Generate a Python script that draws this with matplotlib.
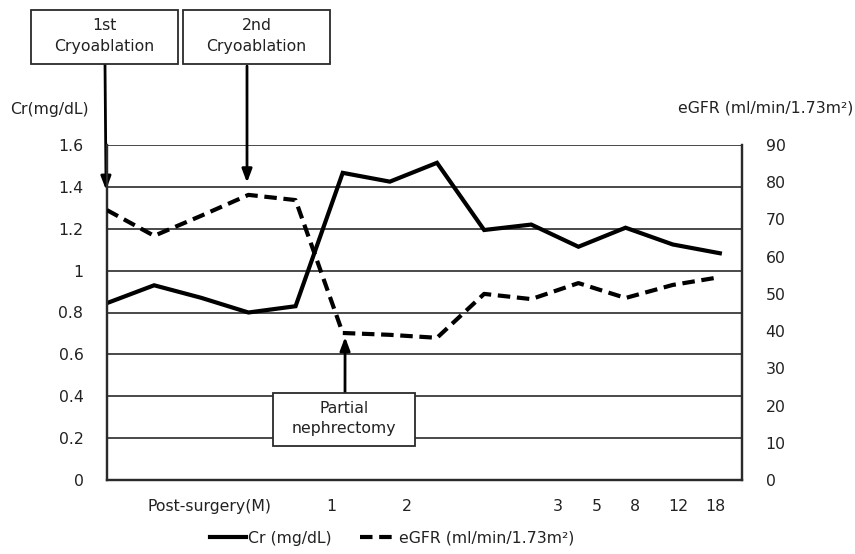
import matplotlib
matplotlib.use("Agg")
import matplotlib.pyplot as plt
from matplotlib.patches import Rectangle
from matplotlib.lines import Line2D

plt.rcParams['font.family'] = ['DejaVu Sans']

# ---- data ----
cr = [0.845, 0.93, 0.87, 0.80, 0.83, 1.467, 1.425, 1.515, 1.194, 1.22, 1.114, 1.205, 1.125, 1.083]
egfr = [72.5, 65.6, 71.0, 76.6, 75.2, 39.5, 39.0, 38.2, 50.0, 48.6, 52.9, 48.9, 52.4, 54.5]
month_labels = ["Post-surgery(M)", "1", "2", "3", "5", "8", "12", "18"]
month_label_pos = [2.18, 4.75, 6.36, 9.57, 10.38, 11.19, 12.12, 12.9]
cr_ticks = [0, 0.2, 0.4, 0.6, 0.8, 1.0, 1.2, 1.4, 1.6]
cr_ticklabels = ["0", "0.2", "0.4", "0.6", "0.8", "1", "1.2", "1.4", "1.6"]
egfr_ticks = [0, 10, 20, 30, 40, 50, 60, 70, 80, 90]

W, H = 855, 554
fig = plt.figure(figsize=(W / 100, H / 100), dpi=100)

def fx(px):
    return px / W

def fy(py):
    return 1 - py / H

ax = fig.add_axes([fx(107), fy(480), fx(742) - fx(107), fy(145) - fy(480)])
ax2 = ax.twinx()

x = list(range(len(cr)))
gc = '#2a2a2a'
fs = 11.3
tc = '#222222'

ax.set_xlim(0, 13.47)
ax.set_ylim(0, 1.6)
ax2.set_ylim(0, 90)
for yv in cr_ticks[1:]:
    ax.axhline(yv, color=gc, lw=1.2, zorder=1)

ax.plot(x, cr, color='black', lw=3, solid_joinstyle='miter', zorder=3)
ax2.plot(x, egfr, color='black', lw=3, dashes=(3, 1.6), zorder=3)

ax.set_yticks(cr_ticks)
ax.set_yticklabels(cr_ticklabels, fontsize=fs, color=tc)
ax2.set_yticks(egfr_ticks)
ax2.set_yticklabels([str(v) for v in egfr_ticks], fontsize=fs, color=tc)
ax.tick_params(axis='y', length=0, pad=17)
ax2.tick_params(axis='y', length=0, pad=17)
ax.set_xticks(month_label_pos)
ax.set_xticklabels(month_labels, fontsize=fs, color=tc)
ax.tick_params(axis='x', length=0, pad=14)

for a in (ax, ax2):
    a.spines['top'].set_visible(False)
    for s in ('left', 'right', 'bottom'):
        a.spines[s].set_color(gc)
        a.spines[s].set_linewidth(1.6)

fig.text(fx(10), fy(110), "Cr(mg/dL)", fontsize=fs, va='center', ha='left', color=tc)
fig.text(fx(853), fy(108), "eGFR (ml/min/1.73m²)", fontsize=fs, va='center', ha='right', color=tc)

# annotation boxes
def box(x0, y0, x1, y1, text):
    fig.patches.append(Rectangle((fx(x0), fy(y1)), fx(x1) - fx(x0), fy(y0) - fy(y1),
                                 transform=fig.transFigure, fill=True, facecolor='white',
                                 edgecolor=gc, lw=1.3, zorder=5))
    fig.text(fx((x0 + x1) / 2), fy((y0 + y1) / 2 - 1), text, ha='center', va='center',
             fontsize=fs, linespacing=1.45, zorder=6, color=tc)

box(31, 10, 178, 64, "1st\nCryoablation")
box(183, 10, 330, 64, "2nd\nCryoablation")
box(273, 393, 415, 446, "Partial\nnephrectomy")

arrowprops = dict(arrowstyle='-|>,head_length=0.8,head_width=0.3', color='black', lw=2,
                  shrinkA=0, shrinkB=0)
ax.annotate("", xy=(-0.02, 1.385), xycoords='data',
            xytext=(fx(105), fy(64)), textcoords='figure fraction',
            arrowprops=arrowprops, annotation_clip=False)
ax.annotate("", xy=(2.97, 1.42), xycoords='data',
            xytext=(fx(247), fy(66)), textcoords='figure fraction',
            arrowprops=arrowprops, annotation_clip=False)
ax.annotate("", xy=(5.05, 0.683), xycoords='data',
            xytext=(fx(345), fy(393)), textcoords='figure fraction',
            arrowprops=arrowprops, annotation_clip=False)

handles = [Line2D([], [], color='black', lw=3),
           Line2D([], [], color='black', lw=3, dashes=(3, 1.6))]
fig.legend(handles, ["Cr (mg/dL)", "eGFR (ml/min/1.73m²)"], loc='center',
           bbox_to_anchor=(fx(392), fy(538)), ncol=2, frameon=False, fontsize=fs,
           handlelength=2.3, handletextpad=0.15, columnspacing=1.8, labelcolor=tc)

fig.savefig("out.png", dpi=100)
